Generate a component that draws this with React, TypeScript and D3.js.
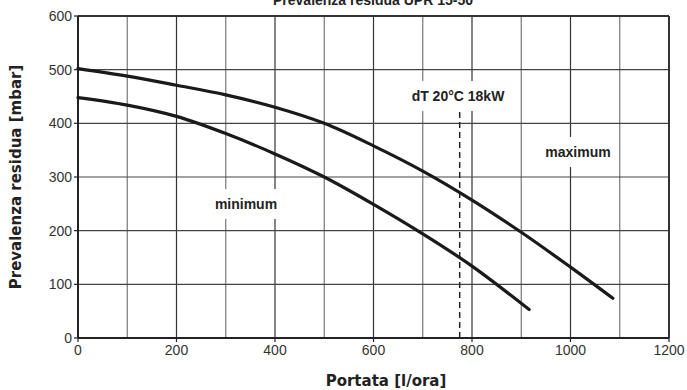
import React from 'react';
import * as d3 from 'd3';

// flow [l/ora] vs residual head [mbar]
const maxFlow = [0, 100, 200, 300, 400, 500, 600, 700, 800, 900, 1000, 1086];
const maxHead = [502, 488, 471, 453, 430, 400, 358, 311, 257, 197, 132, 74];
const minFlow = [0, 100, 200, 300, 400, 500, 600, 700, 800, 916];
const minHead = [448, 434, 413, 381, 343, 300, 249, 194, 134, 53];
const dtFlow = 775;
const dtTop = 421;

const xTicks = [0, 200, 400, 600, 800, 1000, 1200];
const yTicks = [0, 100, 200, 300, 400, 500, 600];
const gridX = d3.range(100, 1200, 100);
const gridY = d3.range(100, 600, 100);

const W = 687;
const H = 390;
const margin = { top: 16, right: 18, bottom: 52, left: 78 };

export default function App() {
    const x = d3.scaleLinear().domain([0, 1200]).range([margin.left, W - margin.right]);
    const y = d3.scaleLinear().domain([0, 600]).range([H - margin.bottom, margin.top]);

    const line = d3.line<[number, number]>()
        .x(d => x(d[0]))
        .y(d => y(d[1]))
        .curve(d3.curveCatmullRom.alpha(0.5));

    const maxPts = maxFlow.map((f, i) => [f, maxHead[i]] as [number, number]);
    const minPts = minFlow.map((f, i) => [f, minHead[i]] as [number, number]);

    const tickFont = '"Liberation Sans", Arial, sans-serif';
    const boldFont = '"DejaVu Sans", sans-serif';

    // white boxes behind in-plot labels (they cut the grid)
    const labels = [
        { text: 'dT 20°C 18kW', cx: 458, cy: 96, w: 96, h: 30 },
        { text: 'maximum', cx: 578, cy: 152, w: 80, h: 30 },
        { text: 'minimum', cx: 246, cy: 204, w: 80, h: 30 },
    ];

    return (
        <svg width={W} height={H} style={{ position: 'absolute', left: 0, top: 0, background: '#fff' }}>
            <text x={373} y={5} textAnchor="middle" fontFamily={tickFont} fontWeight="bold" fontSize={14} fill="#222">
                Prevalenza residua UPR 15-50
            </text>

            {/* grid */}
            {gridX.map(v => (
                <line key={'gx' + v} x1={x(v)} x2={x(v)} y1={y(600)} y2={y(0)}
                    stroke={v % 200 === 0 ? '#333' : '#777'} strokeWidth={1.2} />
            ))}
            {gridY.map(v => (
                <line key={'gy' + v} x1={x(0)} x2={x(1200)} y1={y(v)} y2={y(v)}
                    stroke="#444" strokeWidth={1.2} />
            ))}

            {labels.map(l => (
                <rect key={'bg' + l.text} x={l.cx - l.w / 2} y={l.cy - l.h / 2} width={l.w} height={l.h} fill="#fff" />
            ))}

            {/* frame */}
            <line x1={x(0)} x2={x(1200)} y1={y(600)} y2={y(600)} stroke="#333" strokeWidth={2} />
            <line x1={x(1200)} x2={x(1200)} y1={y(600)} y2={y(0)} stroke="#333" strokeWidth={2} />
            <line x1={x(0)} x2={x(0)} y1={y(600)} y2={y(0)} stroke="#222" strokeWidth={2} />
            <line x1={x(0)} x2={x(1200)} y1={y(0)} y2={y(0)} stroke="#222" strokeWidth={2} />

            {/* ticks */}
            {yTicks.map(v => (
                <g key={'yt' + v}>
                    <line x1={x(0) - 4} x2={x(0)} y1={y(v)} y2={y(v)} stroke="#222" strokeWidth={1.2} />
                    <text x={x(0) - 6} y={y(v)} dy="0.35em" textAnchor="end" fontFamily={tickFont} fontSize={14} fill="#333">{v}</text>
                </g>
            ))}
            {xTicks.map(v => (
                <g key={'xt' + v}>
                    <line x1={x(v)} x2={x(v)} y1={y(0)} y2={y(0) + 4} stroke="#222" strokeWidth={1.2} />
                    <text x={x(v)} y={y(0) + 17} textAnchor="middle" fontFamily={tickFont} fontSize={14} fill="#333">{v}</text>
                </g>
            ))}

            {/* dT line */}
            <line x1={x(dtFlow)} x2={x(dtFlow)} y1={y(dtTop)} y2={y(0)} stroke="#222" strokeWidth={1.5} strokeDasharray="6,4" />

            {/* curves */}
            <path d={line(maxPts) || ''} fill="none" stroke="#1a1a1a" strokeWidth={3.2} strokeLinecap="round" />
            <path d={line(minPts) || ''} fill="none" stroke="#1a1a1a" strokeWidth={3.2} strokeLinecap="round" />

            {labels.map(l => (
                <text key={l.text} x={l.cx} y={l.cy} dy="0.35em" textAnchor="middle" fontFamily={tickFont} fontWeight="bold" fontSize={14} fill="#222">{l.text}</text>
            ))}

            {/* axis titles */}
            <text transform={`translate(21,${(y(0) + y(600)) / 2}) rotate(-90)`} textAnchor="middle"
                fontFamily={boldFont} fontWeight="bold" fontSize={15} fill="#222">
                Prevalenza residua [mbar]
            </text>
            <text x={386} y={386} textAnchor="middle" fontFamily={boldFont} fontWeight="bold" fontSize={15} fill="#222">
                Portata [l/ora]
            </text>
        </svg>
    );
}
